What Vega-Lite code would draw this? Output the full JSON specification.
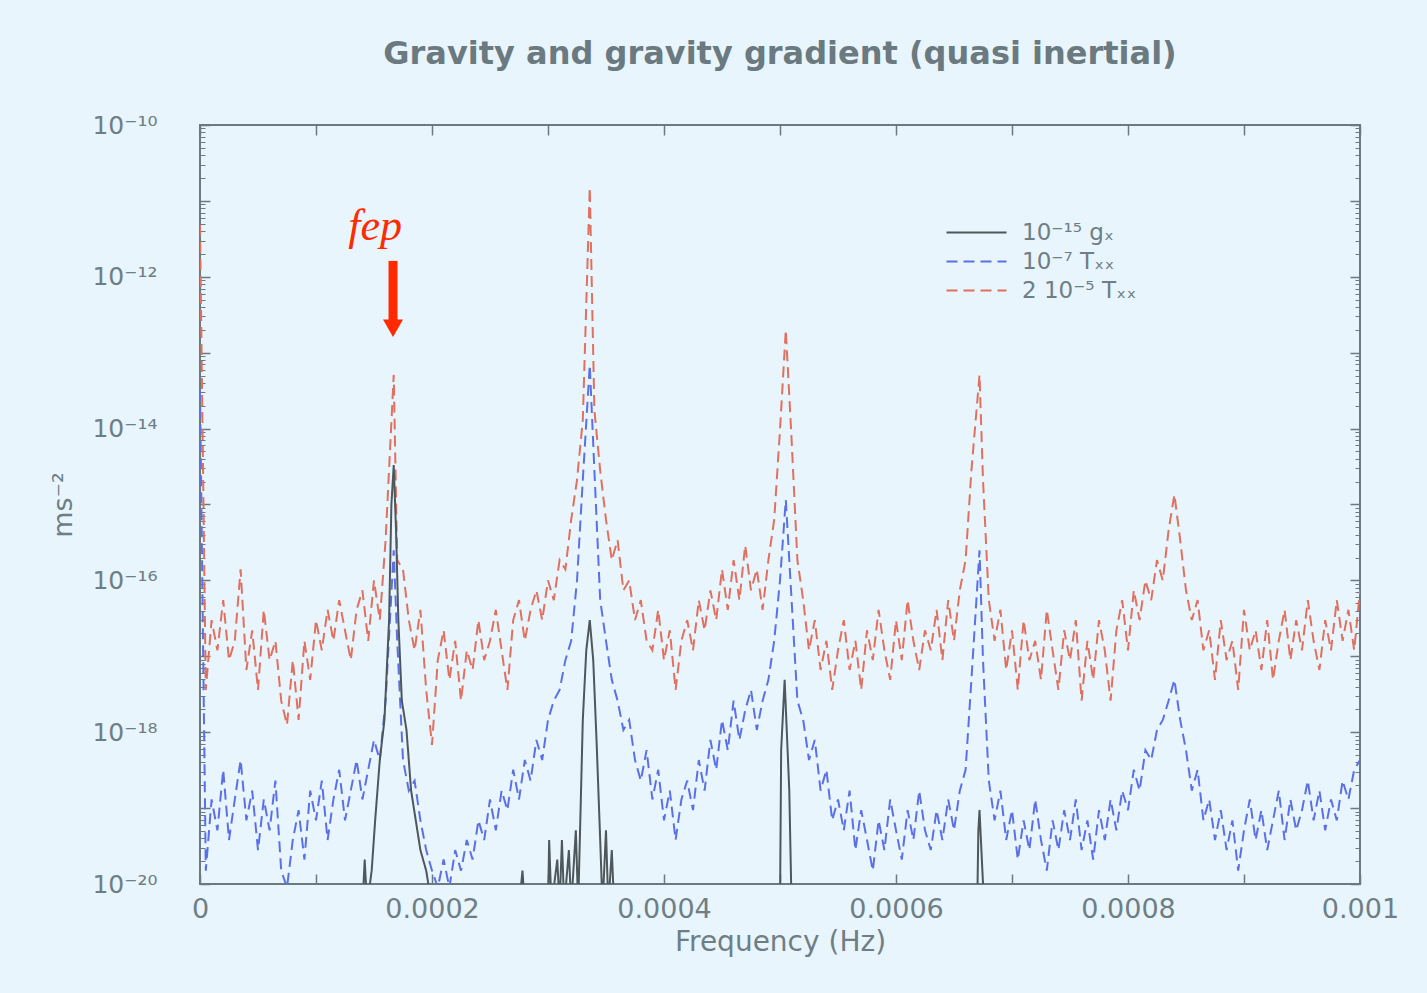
{
  "$schema": "https://vega.github.io/schema/vega-lite/v6.json",
  "width": 1160,
  "height": 759,
  "autosize": {"type": "none"},
  "padding": {"left": 200, "top": 125, "right": 67, "bottom": 109},
  "background": "#e8f5fd",
  "config": {
    "view": {"stroke": "#6b7a80", "strokeWidth": 2},
    "font": "DejaVu Sans",
    "axis": {"labelFont": "DejaVu Sans", "titleFont": "DejaVu Sans", "labelColor": "#6f7e85", "titleColor": "#6f7e85", "tickColor": "#6b7a80", "tickWidth": 1.5, "domain": false, "grid": false, "labelOverlap": false, "labelFlush": false}
  },
  "title": {"text": "Gravity and gravity gradient (quasi inertial)", "fontSize": 32, "fontWeight": "bold", "color": "#6b7a80", "offset": 42, "anchor": "middle", "font": "DejaVu Sans"},
  "datasets": {
    "rb": [
      {"f":0,"r":4.8e-12,"b":3.2e-14},
      {"f":0.000005,"r":3.6e-18,"b":1.5e-20},
      {"f":0.00001,"r":3.0e-17,"b":1.3e-19},
      {"f":0.000015,"r":1.2e-17,"b":5.1e-20},
      {"f":0.00002,"r":5.5e-17,"b":3.2e-19},
      {"f":0.000025,"r":8.9e-18,"b":3.8e-20},
      {"f":0.00003,"r":1.6e-17,"b":1.3e-19},
      {"f":0.000035,"r":1.4e-16,"b":4.3e-19},
      {"f":0.00004,"r":6.6e-18,"b":6.9e-20},
      {"f":0.000045,"r":2.2e-17,"b":1.7e-19},
      {"f":0.00005,"r":3.6e-18,"b":2.8e-20},
      {"f":0.000055,"r":4.1e-17,"b":1.3e-19},
      {"f":0.00006,"r":8.9e-18,"b":5.1e-20},
      {"f":0.000065,"r":1.6e-17,"b":2.3e-19},
      {"f":0.00007,"r":2.6e-18,"b":1.5e-20},
      {"f":0.000075,"r":1.25e-18,"b":9e-21},
      {"f":0.00008,"r":8.9e-18,"b":3.8e-20},
      {"f":0.000085,"r":1.45e-18,"b":9.4e-20},
      {"f":0.00009,"r":1.6e-17,"b":2.1e-20},
      {"f":0.000095,"r":4.9e-18,"b":1.7e-19},
      {"f":0.0001,"r":3.0e-17,"b":6.9e-20},
      {"f":0.000105,"r":1.2e-17,"b":2.3e-19},
      {"f":0.00011,"r":4.1e-17,"b":3.8e-20},
      {"f":0.000115,"r":1.6e-17,"b":1.3e-19},
      {"f":0.00012,"r":5.5e-17,"b":3.2e-19},
      {"f":0.000125,"r":2.2e-17,"b":6.9e-20},
      {"f":0.00013,"r":8.9e-18,"b":1.7e-19},
      {"f":0.000135,"r":4.1e-17,"b":4.3e-19},
      {"f":0.00014,"r":7.4e-17,"b":1.3e-19},
      {"f":0.000145,"r":1.6e-17,"b":3.2e-19},
      {"f":0.00015,"r":1.0e-16,"b":7.9e-19},
      {"f":0.000155,"r":3.0e-17,"b":4.3e-19},
      {"f":0.00016,"r":3.4e-16,"b":2.6e-18},
      {"f":0.000167,"r":5.1e-14,"b":2.5e-16},
      {"f":0.00017,"r":1.85e-16,"b":1.6e-17},
      {"f":0.000175,"r":1.4e-16,"b":4.3e-19},
      {"f":0.00018,"r":3.0e-17,"b":1.7e-19},
      {"f":0.000185,"r":1.2e-17,"b":2.3e-19},
      {"f":0.00019,"r":4.1e-17,"b":6.9e-20},
      {"f":0.000195,"r":3.6e-18,"b":2.8e-20},
      {"f":0.0002,"r":6.8e-19,"b":1.5e-20},
      {"f":0.000205,"r":8.9e-18,"b":9e-21},
      {"f":0.00021,"r":2.2e-17,"b":2.1e-20},
      {"f":0.000215,"r":4.9e-18,"b":9e-21},
      {"f":0.00022,"r":1.6e-17,"b":2.8e-20},
      {"f":0.000225,"r":2.6e-18,"b":1.5e-20},
      {"f":0.00023,"r":1.2e-17,"b":3.8e-20},
      {"f":0.000235,"r":6.6e-18,"b":2.1e-20},
      {"f":0.00024,"r":3.0e-17,"b":6.9e-20},
      {"f":0.000245,"r":8.9e-18,"b":3.8e-20},
      {"f":0.00025,"r":1.6e-17,"b":1.3e-19},
      {"f":0.000255,"r":4.1e-17,"b":5.1e-20},
      {"f":0.00026,"r":1.2e-17,"b":1.7e-19},
      {"f":0.000265,"r":3.6e-18,"b":9.4e-20},
      {"f":0.00027,"r":3.0e-17,"b":3.2e-19},
      {"f":0.000275,"r":5.5e-17,"b":1.3e-19},
      {"f":0.00028,"r":1.6e-17,"b":4.3e-19},
      {"f":0.000285,"r":4.1e-17,"b":2.3e-19},
      {"f":0.00029,"r":7.4e-17,"b":7.9e-19},
      {"f":0.000295,"r":3.0e-17,"b":4.3e-19},
      {"f":0.0003,"r":1.0e-16,"b":1.45e-18},
      {"f":0.000305,"r":5.5e-17,"b":2.6e-18},
      {"f":0.00031,"r":1.85e-16,"b":3.6e-18},
      {"f":0.000315,"r":1.4e-16,"b":8.9e-18},
      {"f":0.00032,"r":6.3e-16,"b":1.6e-17},
      {"f":0.000325,"r":2.1e-15,"b":1.0e-16},
      {"f":0.00033,"r":1.3e-14,"b":2.1e-15},
      {"f":0.000336,"r":1.5e-11,"b":6.9e-14},
      {"f":0.00034,"r":1.75e-14,"b":2.8e-15},
      {"f":0.000345,"r":2.8e-15,"b":5.5e-17},
      {"f":0.00035,"r":6.3e-16,"b":1.6e-17},
      {"f":0.000355,"r":1.85e-16,"b":4.9e-18},
      {"f":0.00036,"r":3.4e-16,"b":2.6e-18},
      {"f":0.000365,"r":7.4e-17,"b":1.07e-18},
      {"f":0.00037,"r":1.0e-16,"b":1.45e-18},
      {"f":0.000375,"r":3.0e-17,"b":4.3e-19},
      {"f":0.00038,"r":5.5e-17,"b":2.3e-19},
      {"f":0.000385,"r":1.6e-17,"b":5.8e-19},
      {"f":0.00039,"r":1.2e-17,"b":1.3e-19},
      {"f":0.000395,"r":4.1e-17,"b":3.2e-19},
      {"f":0.0004,"r":8.9e-18,"b":6.9e-20},
      {"f":0.000405,"r":2.2e-17,"b":1.7e-19},
      {"f":0.00041,"r":3.6e-18,"b":3.8e-20},
      {"f":0.000415,"r":1.6e-17,"b":1.3e-19},
      {"f":0.00042,"r":3.0e-17,"b":2.3e-19},
      {"f":0.000425,"r":1.2e-17,"b":9.4e-20},
      {"f":0.00043,"r":5.5e-17,"b":4.3e-19},
      {"f":0.000435,"r":2.2e-17,"b":1.7e-19},
      {"f":0.00044,"r":7.4e-17,"b":7.9e-19},
      {"f":0.000445,"r":3.0e-17,"b":3.2e-19},
      {"f":0.00045,"r":1.4e-16,"b":1.45e-18},
      {"f":0.000455,"r":4.1e-17,"b":5.8e-19},
      {"f":0.00046,"r":1.85e-16,"b":2.6e-18},
      {"f":0.000465,"r":5.5e-17,"b":7.9e-19},
      {"f":0.00047,"r":2.9e-16,"b":1.95e-18},
      {"f":0.000475,"r":7.4e-17,"b":3.6e-18},
      {"f":0.00048,"r":1.4e-16,"b":1.07e-18},
      {"f":0.000485,"r":4.1e-17,"b":2.6e-18},
      {"f":0.00049,"r":1.85e-16,"b":4.9e-18},
      {"f":0.000495,"r":6.3e-16,"b":1.6e-17},
      {"f":0.0005,"r":9.6e-15,"b":1.0e-16},
      {"f":0.000505,"r":2.0e-13,"b":1.15e-15},
      {"f":0.00051,"r":7.1e-15,"b":5.5e-17},
      {"f":0.000515,"r":1.85e-16,"b":2.6e-18},
      {"f":0.00052,"r":5.5e-17,"b":1.45e-18},
      {"f":0.000525,"r":1.2e-17,"b":4.3e-19},
      {"f":0.00053,"r":3.0e-17,"b":7.9e-19},
      {"f":0.000535,"r":6.6e-18,"b":1.7e-19},
      {"f":0.00054,"r":1.6e-17,"b":3.2e-19},
      {"f":0.000545,"r":3.6e-18,"b":6.9e-20},
      {"f":0.00055,"r":1.2e-17,"b":1.3e-19},
      {"f":0.000555,"r":3.0e-17,"b":5.1e-20},
      {"f":0.00056,"r":6.6e-18,"b":1.7e-19},
      {"f":0.000565,"r":1.6e-17,"b":2.8e-20},
      {"f":0.00057,"r":3.6e-18,"b":9.4e-20},
      {"f":0.000575,"r":2.2e-17,"b":3.8e-20},
      {"f":0.00058,"r":8.9e-18,"b":1.5e-20},
      {"f":0.000585,"r":4.1e-17,"b":6.9e-20},
      {"f":0.00059,"r":1.2e-17,"b":2.8e-20},
      {"f":0.000595,"r":4.9e-18,"b":1.3e-19},
      {"f":0.0006,"r":3.0e-17,"b":5.1e-20},
      {"f":0.000605,"r":8.9e-18,"b":2.1e-20},
      {"f":0.00061,"r":5.5e-17,"b":9.4e-20},
      {"f":0.000615,"r":1.6e-17,"b":3.8e-20},
      {"f":0.00062,"r":6.6e-18,"b":1.7e-19},
      {"f":0.000625,"r":2.2e-17,"b":5.1e-20},
      {"f":0.00063,"r":1.2e-17,"b":2.8e-20},
      {"f":0.000635,"r":4.1e-17,"b":9.4e-20},
      {"f":0.00064,"r":8.9e-18,"b":3.8e-20},
      {"f":0.000645,"r":5.5e-17,"b":1.3e-19},
      {"f":0.00065,"r":1.6e-17,"b":5.1e-20},
      {"f":0.000655,"r":7.4e-17,"b":1.7e-19},
      {"f":0.00066,"r":1.85e-16,"b":3.2e-19},
      {"f":0.000665,"r":2.8e-15,"b":4.9e-18},
      {"f":0.000672,"r":5.1e-14,"b":2.5e-16},
      {"f":0.000675,"r":2.1e-15,"b":8.9e-18},
      {"f":0.00068,"r":5.5e-17,"b":2.3e-19},
      {"f":0.000685,"r":1.6e-17,"b":6.9e-20},
      {"f":0.00069,"r":4.1e-17,"b":1.7e-19},
      {"f":0.000695,"r":6.6e-18,"b":3.8e-20},
      {"f":0.0007,"r":2.2e-17,"b":9.4e-20},
      {"f":0.000705,"r":3.6e-18,"b":2.1e-20},
      {"f":0.00071,"r":3.0e-17,"b":6.9e-20},
      {"f":0.000715,"r":8.9e-18,"b":2.8e-20},
      {"f":0.00072,"r":1.6e-17,"b":1.3e-19},
      {"f":0.000725,"r":4.9e-18,"b":3.8e-20},
      {"f":0.00073,"r":4.1e-17,"b":1.5e-20},
      {"f":0.000735,"r":1.2e-17,"b":6.9e-20},
      {"f":0.00074,"r":3.6e-18,"b":2.8e-20},
      {"f":0.000745,"r":2.2e-17,"b":9.4e-20},
      {"f":0.00075,"r":8.9e-18,"b":3.8e-20},
      {"f":0.000755,"r":3.0e-17,"b":1.3e-19},
      {"f":0.00076,"r":2.6e-18,"b":2.8e-20},
      {"f":0.000765,"r":1.6e-17,"b":6.9e-20},
      {"f":0.00077,"r":4.9e-18,"b":2.1e-20},
      {"f":0.000775,"r":3.0e-17,"b":9.4e-20},
      {"f":0.00078,"r":1.2e-17,"b":3.8e-20},
      {"f":0.000785,"r":2.6e-18,"b":1.3e-19},
      {"f":0.00079,"r":2.2e-17,"b":5.1e-20},
      {"f":0.000795,"r":5.5e-17,"b":1.7e-19},
      {"f":0.0008,"r":1.2e-17,"b":9.4e-20},
      {"f":0.000805,"r":7.4e-17,"b":3.2e-19},
      {"f":0.00081,"r":3.0e-17,"b":1.7e-19},
      {"f":0.000815,"r":1.0e-16,"b":5.8e-19},
      {"f":0.00082,"r":5.5e-17,"b":4.3e-19},
      {"f":0.000825,"r":1.85e-16,"b":1.07e-18},
      {"f":0.00083,"r":1.0e-16,"b":1.45e-18},
      {"f":0.000835,"r":4.6e-16,"b":2.6e-18},
      {"f":0.00084,"r":1.35e-15,"b":4.9e-18},
      {"f":0.000845,"r":3.4e-16,"b":1.45e-18},
      {"f":0.00085,"r":7.4e-17,"b":5.8e-19},
      {"f":0.000855,"r":3.0e-17,"b":1.7e-19},
      {"f":0.00086,"r":5.5e-17,"b":3.2e-19},
      {"f":0.000865,"r":1.2e-17,"b":6.9e-20},
      {"f":0.00087,"r":2.2e-17,"b":1.3e-19},
      {"f":0.000875,"r":4.9e-18,"b":3.8e-20},
      {"f":0.00088,"r":3.0e-17,"b":9.4e-20},
      {"f":0.000885,"r":8.9e-18,"b":2.8e-20},
      {"f":0.00089,"r":1.6e-17,"b":6.9e-20},
      {"f":0.000895,"r":3.6e-18,"b":1.5e-20},
      {"f":0.0009,"r":4.1e-17,"b":5.1e-20},
      {"f":0.000905,"r":1.2e-17,"b":1.3e-19},
      {"f":0.00091,"r":2.2e-17,"b":3.8e-20},
      {"f":0.000915,"r":6.6e-18,"b":9.4e-20},
      {"f":0.00092,"r":3.0e-17,"b":2.8e-20},
      {"f":0.000925,"r":4.9e-18,"b":6.9e-20},
      {"f":0.00093,"r":1.6e-17,"b":1.7e-19},
      {"f":0.000935,"r":4.1e-17,"b":3.8e-20},
      {"f":0.00094,"r":8.9e-18,"b":1.3e-19},
      {"f":0.000945,"r":3.0e-17,"b":5.1e-20},
      {"f":0.00095,"r":1.2e-17,"b":9.4e-20},
      {"f":0.000955,"r":5.5e-17,"b":2.3e-19},
      {"f":0.00096,"r":1.6e-17,"b":6.9e-20},
      {"f":0.000965,"r":6.6e-18,"b":1.7e-19},
      {"f":0.00097,"r":3.0e-17,"b":5.1e-20},
      {"f":0.000975,"r":1.2e-17,"b":1.3e-19},
      {"f":0.00098,"r":5.5e-17,"b":6.9e-20},
      {"f":0.000985,"r":1.6e-17,"b":2.3e-19},
      {"f":0.00099,"r":4.1e-17,"b":1.3e-19},
      {"f":0.000995,"r":1.2e-17,"b":3.2e-19},
      {"f":0.001,"r":7.4e-17,"b":4.3e-19}
    ],
    "gx": [
      {"f":0,"g":5e-21},
      {"f":0.00014,"g":5e-21},
      {"f":0.000142,"g":2.1e-20},
      {"f":0.000144,"g":5e-21},
      {"f":0.000148,"g":1.5e-20},
      {"f":0.000151,"g":6.9e-20},
      {"f":0.000155,"g":4.3e-19},
      {"f":0.000159,"g":1.45e-18},
      {"f":0.000163,"g":3.0e-17},
      {"f":0.000165,"g":1.0e-15},
      {"f":0.000167,"g":3.3e-15},
      {"f":0.000169,"g":4.6e-16},
      {"f":0.000171,"g":3.0e-17},
      {"f":0.000174,"g":2.6e-18},
      {"f":0.000178,"g":1.07e-18},
      {"f":0.000182,"g":1.7e-19},
      {"f":0.000186,"g":6.9e-20},
      {"f":0.00019,"g":2.8e-20},
      {"f":0.000195,"g":1.5e-20},
      {"f":0.0002,"g":5e-21},
      {"f":0.000275,"g":5e-21},
      {"f":0.000278,"g":1.5e-20},
      {"f":0.00028,"g":5e-21},
      {"f":0.0003,"g":5e-21},
      {"f":0.000301,"g":3.8e-20},
      {"f":0.000303,"g":5e-21},
      {"f":0.000308,"g":2.1e-20},
      {"f":0.00031,"g":5e-21},
      {"f":0.000312,"g":3.8e-20},
      {"f":0.000314,"g":5e-21},
      {"f":0.000318,"g":2.8e-20},
      {"f":0.00032,"g":5e-21},
      {"f":0.000324,"g":5.1e-20},
      {"f":0.000326,"g":5e-21},
      {"f":0.00033,"g":1.45e-18},
      {"f":0.000333,"g":1.2e-17},
      {"f":0.000336,"g":3.0e-17},
      {"f":0.000339,"g":8.9e-18},
      {"f":0.000342,"g":6.8e-19},
      {"f":0.000345,"g":3.8e-20},
      {"f":0.000347,"g":5e-21},
      {"f":0.00035,"g":5.1e-20},
      {"f":0.000352,"g":5e-21},
      {"f":0.000355,"g":2.8e-20},
      {"f":0.000357,"g":5e-21},
      {"f":0.0005,"g":5e-21},
      {"f":0.000501,"g":5.8e-19},
      {"f":0.000504,"g":4.9e-18},
      {"f":0.000508,"g":1.7e-19},
      {"f":0.00051,"g":5e-21},
      {"f":0.00067,"g":5e-21},
      {"f":0.000671,"g":5.1e-20},
      {"f":0.000672,"g":9.4e-20},
      {"f":0.000674,"g":2.1e-20},
      {"f":0.000676,"g":5e-21},
      {"f":0.001,"g":5e-21}
    ]
  },
  "layer": [
    {
      "data": {"name": "rb"},
      "transform": [{"fold": ["r"], "as": ["s", "v"]}],
      "mark": {"type": "line", "clip": true, "strokeWidth": 2},
      "encoding": {
        "x": {"field": "f", "type": "quantitative", "scale": {"domain": [0, 0.001], "nice": false},
          "axis": {"orient": "bottom", "values": [0,0.0001,0.0002,0.0003,0.0004,0.0005,0.0006,0.0007,0.0008,0.0009,0.001], "labelExpr": "round(datum.value*10000)%2==0 ? format(datum.value,'.4~f') : ''", "tickSize": -10, "labelFontSize": 27, "labelPadding": 22, "title": "Frequency (Hz)", "titleFontSize": 28, "titleFontWeight": "normal", "titlePadding": 6}},
        "y": {"field": "v", "type": "quantitative", "scale": {"type": "log", "domain": [1e-20, 1e-10], "nice": false},
          "axis": {"orient": "left", "values": [1e-20,1e-19,1e-18,1e-17,1e-16,1e-15,1e-14,1e-13,1e-12,1e-11,1e-10], "labelExpr": "round(log(datum.value)/LN10) == -10 ? '10⁻¹⁰' : round(log(datum.value)/LN10) == -12 ? '10⁻¹²' : round(log(datum.value)/LN10) == -14 ? '10⁻¹⁴' : round(log(datum.value)/LN10) == -16 ? '10⁻¹⁶' : round(log(datum.value)/LN10) == -18 ? '10⁻¹⁸' : round(log(datum.value)/LN10) == -20 ? '10⁻²⁰' : ''", "tickSize": -10, "labelFontSize": 25, "labelPadding": 53, "title": "ms⁻²", "titleFontSize": 27, "titleFontWeight": "normal", "titlePadding": 14}},
        "color": {"field": "s", "type": "nominal", "scale": {"domain": ["g", "b", "r"], "range": ["#4d575c", "#5c70e6", "#e0705f"]},
          "legend": {"orient": "none", "legendX": 765, "legendY": 96, "title": null, "symbolType": "M-3,0H3", "symbolSize": 400, "symbolStrokeWidth": 2, "symbolFillColor": "transparent", "labelFontSize": 23, "labelColor": "#6f7e85", "labelFont": "DejaVu Sans", "rowPadding": 5, "labelOffset": 34, "labelExpr": "datum.value == 'g' ? '10⁻¹⁵ gₓ' : datum.value == 'b' ? '10⁻⁷ Tₓₓ' : '2 10⁻⁵ Tₓₓ'"}},
        "strokeDash": {"field": "s", "type": "nominal", "scale": {"domain": ["g", "b", "r"], "range": [[1, 0], [11, 6], [11, 6]]},
          "legend": {"orient": "none", "legendX": 765, "legendY": 96, "title": null, "symbolType": "M-3,0H3", "symbolSize": 400, "symbolStrokeWidth": 2, "symbolFillColor": "transparent", "labelFontSize": 23, "labelColor": "#6f7e85", "labelFont": "DejaVu Sans", "rowPadding": 5, "labelOffset": 34, "labelExpr": "datum.value == 'g' ? '10⁻¹⁵ gₓ' : datum.value == 'b' ? '10⁻⁷ Tₓₓ' : '2 10⁻⁵ Tₓₓ'"}}
      }
    },
    {
      "data": {"name": "rb"},
      "transform": [{"fold": ["b"], "as": ["s", "v"]}],
      "mark": {"type": "line", "clip": true, "strokeWidth": 2},
      "encoding": {
        "x": {"field": "f", "type": "quantitative", "axis": null},
        "y": {"field": "v", "type": "quantitative", "axis": null},
        "color": {"field": "s", "type": "nominal"},
        "strokeDash": {"field": "s", "type": "nominal"}
      }
    },
    {
      "data": {"name": "gx"},
      "transform": [{"fold": ["g"], "as": ["s", "v"]}],
      "mark": {"type": "line", "clip": true, "strokeWidth": 2},
      "encoding": {
        "x": {"field": "f", "type": "quantitative", "axis": null},
        "y": {"field": "v", "type": "quantitative", "axis": null},
        "color": {"field": "s", "type": "nominal"},
        "strokeDash": {"field": "s", "type": "nominal"}
      }
    },
    {
      "data": {"values": [{"f": 0.0001664, "v": 1.62e-12, "v2": 2.5e-13}]},
      "mark": {"type": "rule", "color": "#ff2a00", "strokeWidth": 9},
      "encoding": {
        "x": {"field": "f", "type": "quantitative",
          "axis": {"orient": "top", "values": [0,0.0001,0.0002,0.0003,0.0004,0.0005,0.0006,0.0007,0.0008,0.0009,0.001], "labels": false, "tickSize": -10, "title": null}},
        "y": {"field": "v", "type": "quantitative",
          "axis": {"orient": "right", "values": [1e-20,1e-19,1e-18,1e-17,1e-16,1e-15,1e-14,1e-13,1e-12,1e-11,1e-10], "labels": false, "tickSize": -10, "title": null}},
        "y2": {"field": "v2"}
      }
    },
    {
      "data": {"values": [{"f": 0.0001664, "v": 2.1e-13}]},
      "mark": {"type": "point", "shape": "triangle-down", "size": 400, "filled": true, "color": "#ff2a00", "opacity": 1, "strokeWidth": 0},
      "encoding": {
        "x": {"field": "f", "type": "quantitative", "axis": null},
        "y": {"field": "v", "type": "quantitative",
          "axis": {"orient": "left", "values": [2e-20,3e-20,4e-20,5e-20,6e-20,7e-20,8e-20,9e-20,2e-19,3e-19,4e-19,5e-19,6e-19,7e-19,8e-19,9e-19,2e-18,3e-18,4e-18,5e-18,6e-18,7e-18,8e-18,9e-18,2e-17,3e-17,4e-17,5e-17,6e-17,7e-17,8e-17,9e-17,2e-16,3e-16,4e-16,5e-16,6e-16,7e-16,8e-16,9e-16,2e-15,3e-15,4e-15,5e-15,6e-15,7e-15,8e-15,9e-15,2e-14,3e-14,4e-14,5e-14,6e-14,7e-14,8e-14,9e-14,2e-13,3e-13,4e-13,5e-13,6e-13,7e-13,8e-13,9e-13,2e-12,3e-12,4e-12,5e-12,6e-12,7e-12,8e-12,9e-12,2e-11,3e-11,4e-11,5e-11,6e-11,7e-11,8e-11,9e-11], "labels": false, "tickSize": -5, "tickWidth": 1, "title": null}}
      }
    },
    {
      "data": {"values": [{"f": 0.0001509, "v": 3.05e-12, "t": "fep"}]},
      "mark": {"type": "text", "font": "Liberation Serif", "fontStyle": "italic", "fontSize": 44, "color": "#ff2a00", "align": "center", "baseline": "alphabetic"},
      "encoding": {
        "x": {"field": "f", "type": "quantitative", "axis": null},
        "y": {"field": "v", "type": "quantitative",
          "axis": {"orient": "right", "values": [2e-20,3e-20,4e-20,5e-20,6e-20,7e-20,8e-20,9e-20,2e-19,3e-19,4e-19,5e-19,6e-19,7e-19,8e-19,9e-19,2e-18,3e-18,4e-18,5e-18,6e-18,7e-18,8e-18,9e-18,2e-17,3e-17,4e-17,5e-17,6e-17,7e-17,8e-17,9e-17,2e-16,3e-16,4e-16,5e-16,6e-16,7e-16,8e-16,9e-16,2e-15,3e-15,4e-15,5e-15,6e-15,7e-15,8e-15,9e-15,2e-14,3e-14,4e-14,5e-14,6e-14,7e-14,8e-14,9e-14,2e-13,3e-13,4e-13,5e-13,6e-13,7e-13,8e-13,9e-13,2e-12,3e-12,4e-12,5e-12,6e-12,7e-12,8e-12,9e-12,2e-11,3e-11,4e-11,5e-11,6e-11,7e-11,8e-11,9e-11], "labels": false, "tickSize": -5, "tickWidth": 1, "title": null}},
        "text": {"field": "t"}
      }
    }
  ],
  "resolve": {"axis": {"x": "independent", "y": "independent"}}
}
